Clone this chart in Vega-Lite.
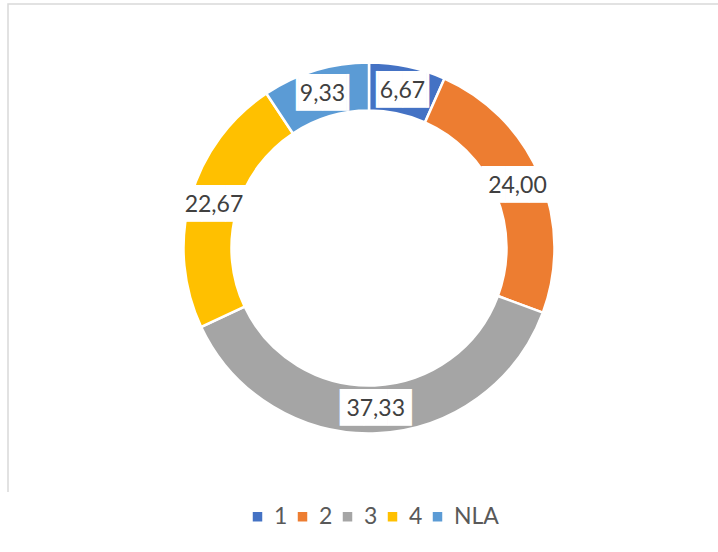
{
  "$schema": "https://vega.github.io/schema/vega-lite/v6.json",
  "width": 722,
  "height": 488,
  "autosize": {"type": "none"},
  "padding": {"left": 8, "top": 4, "right": 0, "bottom": 60},
  "background": "white",
  "view": {"stroke": "#d9d9d9", "strokeWidth": 1.5, "strokeDash": [1210, 722], "fill": "white"},
  "config": {
    "locale": {"number": {"decimal": ",", "thousands": ".", "grouping": [3], "currency": ["", " €"]}},
    "font": "Lato"
  },
  "data": {
    "values": [
      {"category": "1", "value": 6.67},
      {"category": "2", "value": 24.00},
      {"category": "3", "value": 37.33},
      {"category": "4", "value": 22.67},
      {"category": "NLA", "value": 9.33}
    ]
  },
  "encoding": {
    "theta": {"field": "value", "type": "quantitative", "stack": true},
    "order": {"field": "category", "type": "nominal", "sort": "ascending"}
  },
  "layer": [
    {
      "mark": {"type": "arc", "innerRadius": 137.5, "outerRadius": 185.5, "stroke": "white", "strokeWidth": 2.5},
      "encoding": {
        "color": {
          "field": "category",
          "type": "nominal",
          "scale": {"domain": ["1", "2", "3", "4", "NLA"], "range": ["#4472C4", "#ED7D31", "#A5A5A5", "#FFC000", "#5B9BD5"]},
          "legend": {
            "orient": "none",
            "legendX": 238,
            "legendY": 501,
            "direction": "horizontal",
            "title": null,
            "symbolType": "square",
            "symbolSize": 90,
            "symbolStrokeWidth": 0,
            "labelFontSize": 23,
            "labelColor": "#595959",
            "labelFont": "Lato",
            "labelOffset": 5,
            "columnPadding": 3,
            "padding": 0
          }
        }
      }
    },
    {
      "mark": {"type": "text", "radius": 161, "font": "DejaVu Sans", "fontSize": 31, "color": "white", "baseline": "middle", "align": "center"},
      "encoding": {
        "text": {"condition": {"test": "datum.value >= 10", "value": "███"}, "value": "▕██▏"}
      }
    },
    {
      "mark": {"type": "text", "radius": 161, "fontSize": 23, "color": "#404040", "baseline": "middle", "align": "center"},
      "encoding": {
        "text": {"field": "value", "type": "quantitative", "format": ".2f"}
      }
    }
  ]
}
